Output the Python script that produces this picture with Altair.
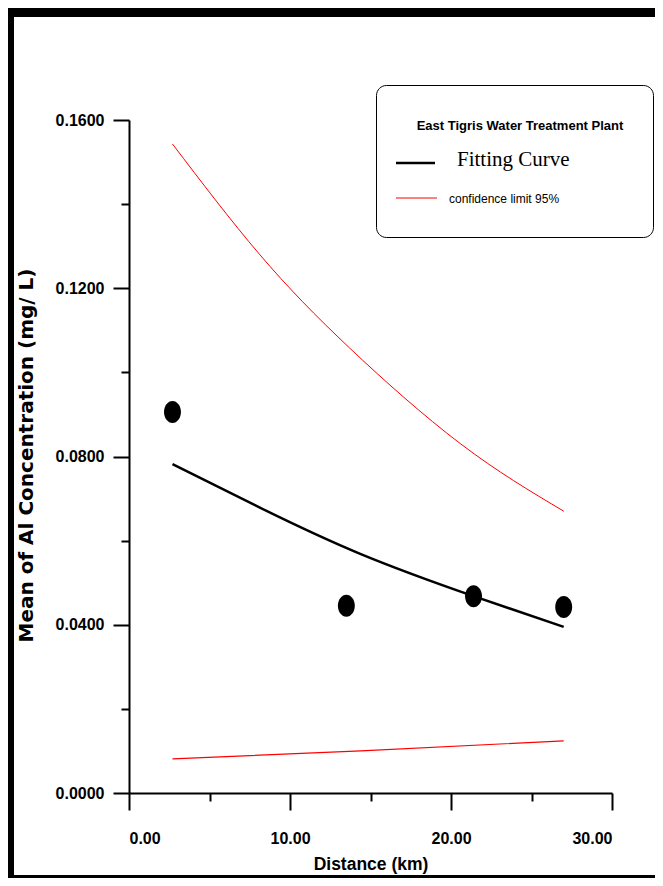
import altair as alt
import pandas as pd

# ---- data ----
dist_obs = [2.7, 13.5, 21.4, 27.0]
conc_obs = [0.0906, 0.0445, 0.0468, 0.0442]

fit_x = [2.7, 8.1, 14.4, 21.4, 27.0]
fit_y = [0.0782, 0.0679, 0.0568, 0.0468, 0.0395]

upper_x = [2.7, 8.1, 13.7, 20.6, 27.0]
upper_y = [0.1543, 0.1281, 0.1058, 0.0830, 0.0670]

lower_x = [2.7, 14.4, 27.0]
lower_y = [0.0081, 0.0100, 0.0124]

x_ticks = [0, 5, 10, 15, 20, 25, 30]
y_ticks = [0.00, 0.02, 0.04, 0.06, 0.08, 0.10, 0.12, 0.14, 0.16]

legend_title = "East Tigris Water Treatment Plant"
legend_fit = "Fitting Curve"
legend_conf = "confidence limit 95%"
x_title = "Distance (km)"
y_title = "Mean of Al Concentration (mg/ L)"

SANS = "Liberation Sans, Arial, sans-serif"

obs = pd.DataFrame({"x": dist_obs, "y": conc_obs})
fit = pd.DataFrame({"x": fit_x, "y": fit_y})
upper = pd.DataFrame({"x": upper_x, "y": upper_y})
lower = pd.DataFrame({"x": lower_x, "y": lower_y})
one = pd.DataFrame({"a": [0]})

xs = alt.Scale(domain=[0, 30], nice=False, zero=False)
ys = alt.Scale(domain=[0, 0.16], nice=False, zero=False)

x_axis = alt.Axis(
    values=x_ticks,
    labelExpr="datum.value % 10 == 0 ? format(datum.value, '.2f') : ''",
    tickSize={"condition": {"test": "datum.value % 10 == 0", "value": 17}, "value": 8},
    tickWidth=2, tickColor="black", domainColor="black", domainWidth=2,
    grid=False, labelOverlap=False,
    labelFont=SANS, labelFontSize=16, labelFontWeight="bold", labelColor="black",
    labelPadding=20,
    title=x_title, titleFont=SANS, titleFontSize=17.5, titleFontWeight="bold",
    titleColor="black", titleX=241.5, titleY=76, titleBaseline="alphabetic",
    titleAlign="center",
)
y_axis = alt.Axis(
    values=y_ticks,
    labelExpr="round(datum.value * 100) % 4 == 0 ? format(datum.value, '.4f') : ''",
    tickSize={"condition": {"test": "round(datum.value * 100) % 4 == 0", "value": 16}, "value": 8},
    tickWidth=2, tickColor="black", domainColor="black", domainWidth=2,
    grid=False, labelOverlap=False,
    labelFont=SANS, labelFontSize=16, labelFontWeight="bold", labelColor="black",
    labelPadding=9,
    title=y_title, titleFont="DejaVu Sans", titleFontSize=20, titleFontWeight="bold",
    titleColor="black", titleX=-97, titleY=335, titleBaseline="alphabetic",
    titleAlign="center", titleAngle=-90,
)

X = alt.X("x:Q", scale=xs, axis=x_axis)
Y = alt.Y("y:Q", scale=ys, axis=y_axis)

upper_line = alt.Chart(upper).mark_line(color="#ff0000", strokeWidth=1, interpolate="natural").encode(x=X, y=Y)
lower_line = alt.Chart(lower).mark_line(color="#ff0000", strokeWidth=1.2, interpolate="natural").encode(x="x:Q", y="y:Q")
fit_line = alt.Chart(fit).mark_line(color="black", strokeWidth=2.5, interpolate="natural").encode(x="x:Q", y="y:Q")

ellipse = "M -0.77 0 A 0.77 1 0 1 0 0.77 0 A 0.77 1 0 1 0 -0.77 0 Z"
points = alt.Chart(obs).mark_point(shape=ellipse, filled=True, color="black", opacity=1, size=484).encode(x="x:Q", y="y:Q")

# ---- frame ----
frame_left = alt.Chart(one).mark_rule(color="black", strokeWidth=6).encode(
    x=alt.value(-118), y=alt.value(-112), y2=alt.value(758))
frame_top = alt.Chart(one).mark_rule(color="black", strokeWidth=9).encode(
    x=alt.value(-121), x2=alt.value(530), y=alt.value(-107.5))
frame_bottom = alt.Chart(one).mark_rule(color="black", strokeWidth=3).encode(
    x=alt.value(-121), x2=alt.value(530), y=alt.value(756.5))

# ---- legend box ----
leg_box = alt.Chart(one).mark_rect(fill="white", stroke="black", strokeWidth=1, cornerRadius=10).encode(
    x=alt.value(247.5), x2=alt.value(524.5), y=alt.value(-34.5), y2=alt.value(117.5))
leg_t = alt.Chart(one).mark_text(font=SANS, fontSize=13, fontWeight="bold", color="black",
                                 align="center", baseline="alphabetic").encode(
    x=alt.value(391), y=alt.value(10), text=alt.value(legend_title))
leg_l1 = alt.Chart(one).mark_rule(color="black", strokeWidth=2.5).encode(
    x=alt.value(267), x2=alt.value(306), y=alt.value(43))
leg_t1 = alt.Chart(one).mark_text(font="Liberation Serif", fontSize=21, color="black",
                                  align="left", baseline="alphabetic").encode(
    x=alt.value(328), y=alt.value(46), text=alt.value(legend_fit))
leg_l2 = alt.Chart(one).mark_rule(color="#ff0000", strokeWidth=1).encode(
    x=alt.value(267), x2=alt.value(308), y=alt.value(78))
leg_t2 = alt.Chart(one).mark_text(font=SANS, fontSize=12, color="black",
                                  align="left", baseline="alphabetic").encode(
    x=alt.value(320), y=alt.value(83), text=alt.value(legend_conf))

chart = alt.layer(
    upper_line, lower_line, fit_line, points,
    frame_left, frame_top, frame_bottom,
    leg_box, leg_t, leg_l1, leg_t1, leg_l2, leg_t2,
).properties(
    width=483, height=673,
    autosize=alt.AutoSizeParams(type="none"),
    padding={"left": 121, "top": 112, "right": 43, "bottom": 85},
    background="white",
).configure_view(stroke=None)

chart.save("out.html", embed_options={"renderer": "svg", "actions": False})
